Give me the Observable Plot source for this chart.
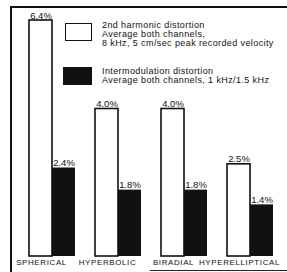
<!DOCTYPE html>
<html>
<head>
<meta charset="utf-8">
<script src="https://cdn.jsdelivr.net/npm/d3@7"></script>
<script src="https://cdn.jsdelivr.net/npm/@observablehq/plot@0.6"></script>
<style>
  html, body { margin: 0; padding: 0; background: #fff; }
  #wrap { position: relative; width: 287px; height: 272px; overflow: hidden; font-family: "Liberation Sans", Arial, Helvetica, sans-serif; }
  #chart { position: absolute; left: 0; top: 0; }
  #chart g[aria-label="x-axis tick label"] text { letter-spacing: 0.6px; }
  .frame-left { position: absolute; left: 10px; top: 6px; width: 1.5px; height: 266px; background: #111; }
  .frame-top { position: absolute; left: 10px; top: 6px; width: 277px; height: 1.5px; background: #111; }
  .frame-bottom { position: absolute; left: 150px; top: 270px; width: 137px; height: 1px; background: #222; }
  .swatch { position: absolute; box-sizing: border-box; border: 1.5px solid #111; }
  .legtext { position: absolute; font-size: 9px; line-height: 8.8px; color: #111; white-space: nowrap; letter-spacing: 0.4px; }
</style>
</head>
<body>
<div id="wrap">
  <div id="chart"></div>
  <div class="frame-left"></div>
  <div class="frame-top"></div>
  <div class="frame-bottom"></div>
  <div class="swatch" id="sw1" style="left:65px; top:23px; width:27px; height:18px; background:#fff;"></div>
  <div class="swatch" id="sw2" style="left:63px; top:67px; width:29px; height:18px; background:#111;"></div>
  <div class="legtext" id="lt1" style="left:102px; top:21px;"></div>
  <div class="legtext" id="lt2" style="left:102px; top:67px;"></div>
</div>
<script>
const categories = ["SPHERICAL", "HYPERBOLIC", "BIRADIAL", "HYPERELLIPTICAL"];
const harmonic = [6.4, 4.0, 4.0, 2.5];
const intermod = [2.4, 1.8, 1.8, 1.4];
const legendHarmonic = ["2nd harmonic distortion", "Average both channels,", "8 kHz, 5 cm/sec peak recorded velocity"];
const legendIntermod = ["Intermodulation distortion", "Average both channels, 1 kHz/1.5 kHz"];

const harmData = categories.map((c, i) => ({category: c, value: harmonic[i]}));
const imData = categories.map((c, i) => ({category: c, value: intermod[i]}));
const fmt = d => d.value.toFixed(1) + "%";

const chart = Plot.plot({
  width: 287,
  height: 272,
  marginLeft: 28,
  marginRight: 13,
  marginTop: 20,
  marginBottom: 16,
  style: {fontFamily: "'Liberation Sans', Arial, Helvetica, sans-serif", background: "transparent", color: "#111"},
  x: {domain: categories, paddingInner: 0.31, paddingOuter: 0, label: null},
  y: {domain: [0, 6.4], axis: null},
  marks: [
    Plot.barY(harmData, {x: "category", y: "value", fill: "#fff", stroke: "#111", strokeWidth: 1.6, insetRight: 23}),
    Plot.barY(imData, {x: "category", y: "value", fill: "#111", insetLeft: 23}),
    Plot.text(harmData, {x: "category", y: "value", text: fmt, dx: -11.5, dy: -2, lineAnchor: "bottom", fontSize: 9.5, fill: "#111"}),
    Plot.text(imData, {x: "category", y: "value", text: fmt, dx: 11.5, dy: -2, lineAnchor: "bottom", fontSize: 9.5, fill: "#111"}),
    Plot.axisX({tickSize: 0, tickPadding: 3, fontSize: 8, dx: -11, label: null})
  ]
});
document.getElementById("chart").appendChild(chart);
document.getElementById("lt1").innerHTML = legendHarmonic.join("<br>");
document.getElementById("lt2").innerHTML = legendIntermod.join("<br>");
</script>
</body>
</html>
